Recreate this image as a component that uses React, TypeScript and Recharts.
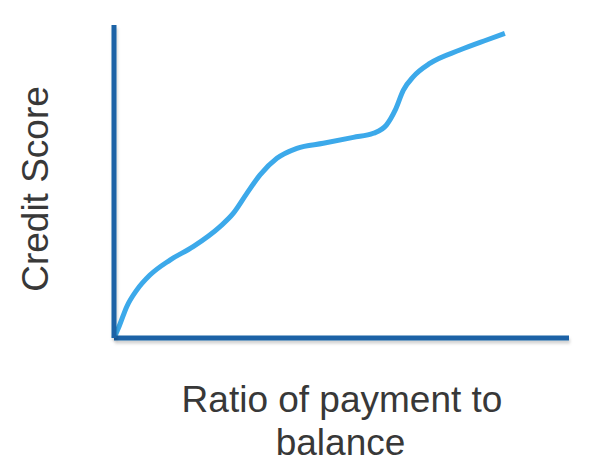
import { LineChart, Line, XAxis, YAxis, Label } from "recharts";

/* ---------- DATA ---------- */

const ratio = [0, 1.2, 2.8, 5.0, 7.9, 12.3, 17.4, 23.3, 26.2, 29.2, 32.1, 35.8, 40.2, 46.0, 52.6, 57.0, 59.9, 61.8, 63.6, 65.8, 69.5, 76.0, 81.9, 85.9];
const score = [0, 4.0, 10.0, 15.3, 20.1, 24.9, 29.2, 35.6, 39.8, 46.2, 52.1, 57.4, 60.6, 62.2, 64.1, 65.4, 68.1, 72.8, 79.2, 83.5, 87.8, 92.0, 95.2, 97.3];

const xLabelLines = ["Ratio of payment to", "balance"];
const yLabelText = "Credit Score";

const data = ratio.map((r, i) => ({ ratio: r, score: score[i] }));

const AXIS = "#1a62a6";
const CURVE = "#3ca9ea";
const TEXT = "#383838";
const FONT = "'Liberation Sans', Arial, sans-serif";

export default function App() {
  return (
    <div style={{ width: 578, height: 457 }}>
      <LineChart
        width={578}
        height={457}
        data={data}
        margin={{ top: 17, right: 17, left: 0, bottom: 0 }}
      >
        <defs>
          <filter id="axShadow" filterUnits="userSpaceOnUse" x="0" y="0" width="578" height="457">
            <feDropShadow dx="1" dy="3" stdDeviation="1.5" floodColor="#000" floodOpacity="0.18" />
          </filter>
        </defs>

        <XAxis
          dataKey="ratio"
          type="number"
          domain={[0, 100]}
          height={127}
          tick={false}
          tickLine={false}
          axisLine={{ stroke: AXIS, strokeWidth: 5, filter: "url(#axShadow)" }}
        >
          <Label
            content={(props: any) => {
              const vb = props.viewBox;
              const cx = vb.x + vb.width / 2;
              return (
                <text
                  textAnchor="middle"
                  fill={TEXT}
                  style={{ fontFamily: FONT, fontSize: 37 }}
                >
                  <tspan x={cx + 0.5} y={vb.y + 74}>{xLabelLines[0]}</tspan>
                  <tspan x={cx - 1} y={vb.y + 117}>{xLabelLines[1]}</tspan>
                </text>
              );
            }}
          />
        </XAxis>

        <YAxis
          type="number"
          domain={[0, 100]}
          width={106}
          tick={false}
          tickLine={false}
          axisLine={{ stroke: AXIS, strokeWidth: 5, filter: "url(#axShadow)" }}
        >
          <Label
            content={(props: any) => {
              const vb = props.viewBox;
              const cx = 39.5;
              const cy = vb.y + vb.height / 2 + 7.5;
              return (
                <text
                  x={cx}
                  y={cy}
                  textAnchor="middle"
                  fill={TEXT}
                  transform={`rotate(-90, ${cx}, ${cy})`}
                  style={{ fontFamily: FONT, fontSize: 37 }}
                >
                  {yLabelText}
                </text>
              );
            }}
          />
        </YAxis>

        <Line
          type="monotone"
          dataKey="score"
          stroke={CURVE}
          strokeWidth={5}
          dot={false}
          activeDot={false}
          isAnimationActive={false}
        />
      </LineChart>
    </div>
  );
}
